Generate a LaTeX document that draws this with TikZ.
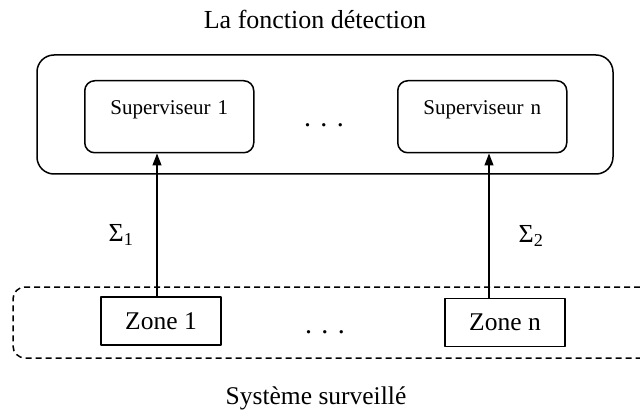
\documentclass[tikz,border=0pt]{standalone}
\usepackage{fontspec}
\setmainfont{Liberation Serif}
\usetikzlibrary{arrows.meta}
\begin{document}
\begin{tikzpicture}[x=1pt, y=-1pt, line width=1.5pt, line join=round,
    supbox/.style={draw, rounded corners=10pt, inner sep=0pt, text width=169pt, align=center,
      text height=34pt, text depth=38pt, font=\fontsize{21}{25}\selectfont},
    zonebox/.style={draw, inner sep=0pt, minimum width=120pt, minimum height=48pt,
      font=\fontsize{25.5}{30}\selectfont},
    caption/.style={font=\fontsize{26}{31}\selectfont},
    sigma/.style={inner sep=0pt, font=\fontsize{26}{31}\selectfont},
    flow/.style={-{Triangle[length=12pt, width=9pt]}, line width=1.3pt}]
    \useasboundingbox (0,0) rectangle (640,414);

    % Function block (top)
    \node[caption] (title) at (315,19) {La fonction détection};
    \node[draw, rounded corners=17pt, minimum width=576pt, minimum height=119pt] (detect) at (325,114.5) {};
    \node[supbox, anchor=north west] (s1) at (84,80) {Superviseur 1};
    \node[supbox, anchor=north west] (sn) at (397,80) {Superviseur n};
    \node[anchor=base, font=\fontsize{28}{32}\selectfont] (dotsup) at (324,127) {. . .};

    % Monitored system (bottom, dashed and open on the right)
    \draw[dashed, dash pattern=on 6pt off 4pt, rounded corners=12pt] (640,287) -- (13,287) -- (13,358) -- (640,358);
    \node[zonebox] (z1) at (161,321) {Zone 1};
    \node[zonebox] (zn) at (505,322.5) {Zone n};
    \node[anchor=base, font=\fontsize{28}{32}\selectfont] (dotsdown) at (325,333) {. . .};
    \node[caption, font=\fontsize{25.5}{30}\selectfont] (systeme) at (316,398) {Système surveillé};

    % Observations going up
    \draw[flow] ([xshift=-4pt]z1.north) -- ([xshift=-4pt]z1.north |- s1.south)
      node[sigma, pos=.43, left=23pt] {Σ\textsubscript{1}};
    \draw[flow] ([xshift=-16pt]zn.north) -- ([xshift=-16pt]zn.north |- sn.south)
      node[sigma, pos=.43, right=29pt] {Σ\textsubscript{2}};
\end{tikzpicture}
\end{document}
